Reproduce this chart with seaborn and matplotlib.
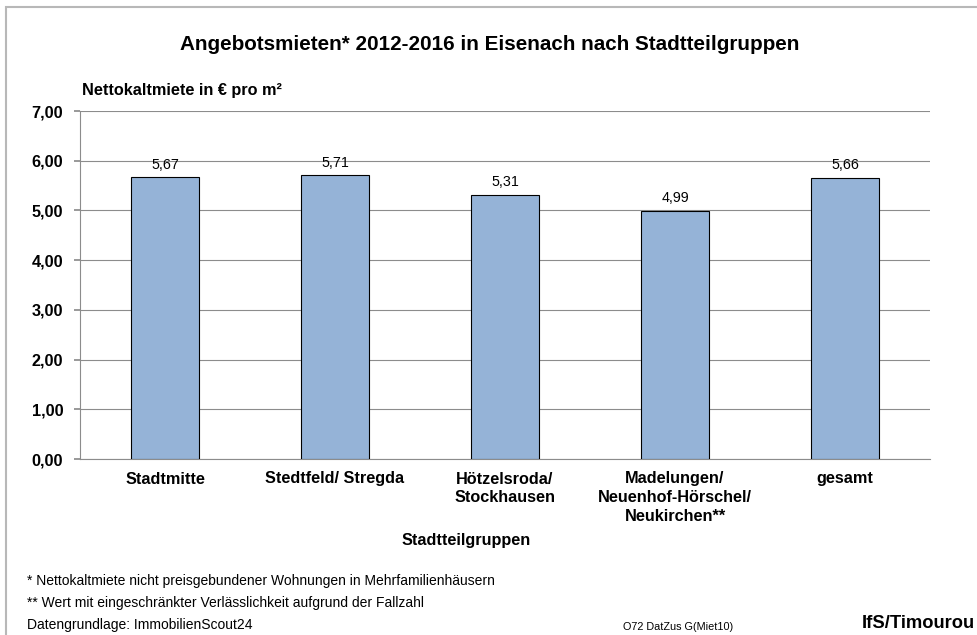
import matplotlib.pyplot as plt
import matplotlib.patches as mpatches
import seaborn as sns
import pandas as pd

categories = ["Stadtmitte", "Stedtfeld/ Stregda", "Hötzelsroda/\nStockhausen",
              "Madelungen/\nNeuenhof-Hörschel/\nNeukirchen**", "gesamt"]
values = [5.67, 5.71, 5.31, 4.99, 5.66]
y_ticks = [0, 1, 2, 3, 4, 5, 6, 7]

df = pd.DataFrame({"Gruppe": categories, "Miete": values})

sns.set_theme(style="white")
plt.rcParams["font.family"] = ["Liberation Sans", "DejaVu Sans"]
plt.rcParams["text.color"] = "black"
plt.rcParams["xtick.color"] = "black"
plt.rcParams["ytick.color"] = "black"

W, H = 978, 635
fig = plt.figure(figsize=(W / 100, H / 100), dpi=100)

# frame around the chart (only left and top visible)
fig.add_artist(mpatches.Rectangle((6 / W, -0.1), 1.2, 1 - 7 / H + 0.1,
                                  transform=fig.transFigure, fill=False,
                                  edgecolor="#b8b8b8", linewidth=1.5))

ax = fig.add_axes([80 / W, 1 - 459 / H, 850 / W, 348 / H])
sns.barplot(data=df, x="Gruppe", y="Miete", color="#95B3D7", width=0.405,
            edgecolor="black", linewidth=0.8, saturation=1, ax=ax, zorder=3)

ax.set_ylim(0, 7)
ax.set_xlim(-0.5, len(categories) - 0.5)
ax.set_yticks(y_ticks)
ax.set_yticklabels([f"{t:.2f}".replace(".", ",") for t in y_ticks],
                   fontsize=11.7, fontweight="bold")
ax.yaxis.grid(True, color="#8c8c8c", linewidth=0.8, zorder=0)
ax.set_axisbelow(True)

ax.set_xticks(range(len(categories)))
ax.set_xticklabels(categories, fontsize=11.7, fontweight="bold", linespacing=1.3)
ax.set_xticks([i - 0.5 for i in range(len(categories) + 1)], minor=True)
ax.tick_params(axis="x", which="major", length=0, pad=9)
ax.tick_params(axis="x", which="minor", length=4, color="#8c8c8c", direction="out")
ax.tick_params(axis="y", length=4, color="#8c8c8c", labelcolor="black",
               direction="out", pad=8, left=True)

for s in ["top", "right"]:
    ax.spines[s].set_visible(False)
for s in ["left", "bottom"]:
    ax.spines[s].set_color("#8c8c8c")
    ax.spines[s].set_linewidth(0.8)

ax.set_xlabel("")
ax.set_ylabel("")

for i, v in enumerate(values):
    ax.annotate(f"{v:.2f}".replace(".", ","), (i, v), xytext=(0, 4),
                textcoords="offset points", ha="center", va="bottom", fontsize=10.3)

fig.text(490 / W, 1 - 45 / H, "Angebotsmieten* 2012-2016 in Eisenach nach Stadtteilgruppen",
         ha="center", va="center", fontsize=14.9, fontweight="bold")
fig.text(82 / W, 1 - 90 / H, "Nettokaltmiete in € pro m²", ha="left", va="center",
         fontsize=11.7, fontweight="bold")
fig.text(466 / W, 1 - 541 / H, "Stadtteilgruppen", ha="center", va="center",
         fontsize=11.7, fontweight="bold")

fig.text(27 / W, 1 - 581 / H, "* Nettokaltmiete nicht preisgebundener Wohnungen in Mehrfamilienhäusern",
         ha="left", va="center", fontsize=10)
fig.text(27 / W, 1 - 603 / H, "** Wert mit eingeschränkter Verlässlichkeit aufgrund der Fallzahl",
         ha="left", va="center", fontsize=10)
fig.text(27 / W, 1 - 625 / H, "Datengrundlage: ImmobilienScout24",
         ha="left", va="center", fontsize=10)
fig.text(678 / W, 1 - 627 / H, "O72 DatZus G(Miet10)", ha="center", va="center", fontsize=7.8)
fig.text(862 / W, 1 - 623 / H, "IfS/Timourou", ha="left", va="center",
         fontsize=13.2, fontweight="bold")

fig.savefig("out.png", dpi=100)
